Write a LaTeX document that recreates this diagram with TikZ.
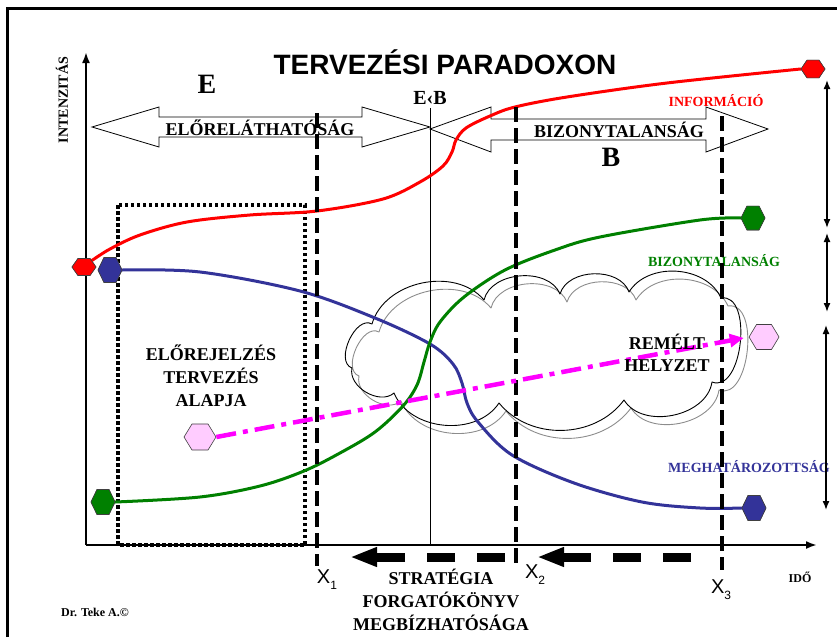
\documentclass[tikz,border=0pt]{standalone}
\usepackage{fontspec}
\setmainfont{Liberation Serif}
\newfontfamily\sansf{Liberation Sans}
\usetikzlibrary{arrows.meta,shapes.geometric}
\definecolor{cred}{RGB}{255,0,0}
\definecolor{cgreen}{RGB}{0,128,0}
\definecolor{cblue}{RGB}{51,51,153}
\definecolor{cpink}{RGB}{255,204,255}
\definecolor{cmag}{RGB}{255,0,255}
\tikzset{
  hexa/.style={regular polygon, regular polygon sides=6, inner sep=0pt, draw=black!75, line width=0.6pt, transform shape},
  curve/.style={line width=3pt, line cap=round},
  vdash/.style={line width=3.5pt, dash pattern=on 15pt off 6pt},
  bigarrow/.style={draw=black, line width=0.8pt, line join=miter},
  lbl/.style={font=\bfseries\fontsize{18}{23}\selectfont, align=center, inner sep=0pt},
  small/.style={font=\bfseries\fontsize{14}{16}\selectfont, inner sep=0pt},
  xlab/.style={font=\sansf\fontsize{20}{22}\selectfont, inner sep=0pt},
  sidearrow/.style={line width=1.5pt, {Latex[length=9pt,width=7pt]}-{Latex[length=9pt,width=7pt]}},
  botarrow/.style={line width=9pt, dash pattern=on 28pt off 22pt, -{Triangle[length=27pt,width=18pt]}},
  axis/.style={line width=2pt, -{Latex[length=11pt,width=8pt]}},
  cloudline/.style={line width=0.9pt, line join=round}
}
\newcommand\hexat[6]{\begin{scope}[shift={(#2,#3)},yscale=#5]\node[hexa,minimum size=#4pt,fill=#6] (#1) at (0,0) {};\end{scope}}
\newcommand\xsub[2]{#1\raisebox{-6pt}{\fontsize{12}{12}\selectfont #2}}
\newcommand\cloudpath{(372,324) to[bend left=62] (484,300) to[bend left=72] (560,294) to[bend left=72] (629,292) to[bend left=62] (721,298) to[bend left=105] (712,382) to[bend left=70] (624,400) to[bend left=52] (499,403) to[bend left=62] (394,393) to[bend left=72] (352,368) to[bend left=95] (372,324) -- cycle}
\begin{document}
\begin{tikzpicture}[x=1pt,y=-1pt]
\useasboundingbox (0,0) rectangle (837,637);
% frame
\draw[line width=3pt] (7,637) -- (7,8) -- (837,8);
% cloud (double outline)
\begin{scope}[shift={(7,8)}]
\draw[cloudline, draw=black!45] \cloudpath;
\end{scope}
\draw[cloudline, draw=black] \cloudpath;
% axes
\coordinate (O) at (86,545);
\coordinate (ytop) at (86,52);
\coordinate (xend) at (817,545);
\draw[axis] (O) -- (ytop);
\draw[axis] (O) -- (xend);
% thin E<B line
\coordinate (ebt) at (430,108);
\coordinate (ebb) at (430,545);
\draw[line width=0.8pt] (ebt) -- (ebb);
% big double arrows
\draw[bigarrow] (92,127) -- (159,107) -- (159,117) -- (362,117) -- (362,107) -- (430,127) -- (362,147) -- (362,137) -- (159,137) -- (159,147) -- cycle;
\draw[bigarrow] (430,129) -- (491,107) -- (491,119) -- (706,119) -- (706,107) -- (768,129) -- (706,152) -- (706,140) -- (491,140) -- (491,152) -- cycle;
% dotted box
\draw[line width=3.5pt, dash pattern=on 3.5pt off 2.5pt] (118,205) rectangle (305,545);
% texts
\node[font=\sansf\bfseries\fontsize{28}{30}\selectfont, inner sep=0pt] (title) at (445,62) {TERVEZÉSI PARADOXON};
\node[font=\bfseries\fontsize{28}{30}\selectfont, inner sep=0pt] (E) at (207,84) {E};
\node[font=\bfseries\fontsize{28}{30}\selectfont, inner sep=0pt] (B) at (611,157) {B};
\node[font=\bfseries\fontsize{20}{22}\selectfont, inner sep=0pt] (EB) at (430,98) {E‹B};
\node[lbl] (elore) at (260,128) {ELŐRELÁTHATÓSÁG};
\node[lbl] (bizon) at (619,130) {BIZONYTALANSÁG};
\node[font=\bfseries\fontsize{14}{16}\selectfont, rotate=90, inner sep=0pt] (int) at (62,100) {INTENZITÁS};
\node[small, text=cred] (info) at (716,101) {INFORMÁCIÓ};
\node[small, text=cgreen] (bizg) at (714,261) {BIZONYTALANSÁG};
\node[small, text=cblue] (megh) at (749,467) {MEGHATÁROZOTTSÁG};
\node[lbl] (elorej) at (211,376) {ELŐREJELZÉS\\TERVEZÉS\\ALAPJA};
\node[lbl] (strat) at (441,600) {STRATÉGIA\\FORGATÓKÖNYV\\MEGBÍZHATÓSÁGA};
\node[font=\bfseries\fontsize{12}{14}\selectfont, inner sep=0pt] (ido) at (800,577) {IDŐ};
\node[font=\bfseries\fontsize{12}{14}\selectfont, inner sep=0pt] (dr) at (95,612) {Dr. Teke A.©};
% hexagons
\hexat{rL}{84}{267}{24}{0.82}{cred}
\hexat{bL}{110}{270}{24}{1.2}{cblue}
\hexat{gL}{103}{502}{24}{1.2}{cgreen}
\hexat{pL}{200}{437}{32}{0.94}{cpink}
\hexat{rR}{813}{69}{24}{0.85}{cred}
\hexat{gR}{753}{218}{24}{1.15}{cgreen}
\hexat{pR}{764}{337}{30}{0.96}{cpink}
\hexat{bR}{754}{508}{24}{1.2}{cblue}
% curves
\draw[curve, cred] plot[smooth, tension=0.55] coordinates {(rL.north east) (110,249) (140,235) (187,222) (250,215) (317,211) (383,199) (420,182) (443,166) (452,152) (456,140) (466,128) (490,116) (515,107) (567,97) (667,83) (rR.west)};
\draw[curve, cblue] plot[smooth, tension=0.55] coordinates {(bL.east) (200,272) (300,291) (375,318) (430,344) (453,364) (462,383) (467,403) (478,422) (512,455) (574,483) (642,502) (700,508) (bR.west)};
\draw[curve, cgreen] plot[smooth, tension=0.55] coordinates {(gL.east) (200,497) (260,486) (304,471) (340,453) (375,432) (403,406) (417,385) (424,362) (430,342) (440,322) (464,297) (505,270) (555,250) (600,237) (700,220) (gR.west)};
% redraw hexagons on top
\hexat{rL2}{84}{267}{24}{0.82}{cred}
\hexat{bL2}{110}{270}{24}{1.2}{cblue}
\hexat{gL2}{103}{502}{24}{1.2}{cgreen}
\hexat{rR2}{813}{69}{24}{0.85}{cred}
\hexat{gR2}{753}{218}{24}{1.15}{cgreen}
\hexat{bR2}{754}{508}{24}{1.2}{cblue}
% dashed verticals
\coordinate (x1t) at (317,113); \coordinate (x1b) at (317,566);
\coordinate (x2t) at (516,107); \coordinate (x2b) at (516,566);
\coordinate (x3t) at (722,116); \coordinate (x3b) at (722,570);
\draw[vdash] (x1t) -- (x1b);
\draw[vdash] (x2t) -- (x2b);
\draw[vdash] (x3t) -- (x3b);
% pink arrow
\draw[cmag, line width=4.5pt, dash pattern=on 20pt off 7pt on 5pt off 7pt, shorten >=5pt, -{Triangle[length=14pt,width=13pt]}] (pL.east) -- (pR.west);
% cloud text
\node[font=\bfseries\fontsize{18}{22}\selectfont, align=center, inner sep=0pt] (remelt) at (667,353) {REMÉLT\\HELYZET};
% bottom arrows
\coordinate (a1s) at (505,557); \coordinate (a1e) at (350,557);
\coordinate (a2s) at (691,557); \coordinate (a2e) at (537,557);
\draw[botarrow] (a1s) -- (a1e);
\draw[botarrow] (a2s) -- (a2e);
% X labels
\node[xlab] (X1) at (327,580) {\xsub{X}{1}};
\node[xlab] (X2) at (535,575) {\xsub{X}{2}};
\node[xlab] (X3) at (721,590) {\xsub{X}{3}};
% side arrows
\coordinate (s1t) at (827,80); \coordinate (s1b) at (827,228);
\coordinate (s2t) at (827,233); \coordinate (s2b) at (827,312);
\coordinate (s3t) at (826,325); \coordinate (s3b) at (826,510);
\draw[sidearrow] (s1t) -- (s1b);
\draw[sidearrow] (s2t) -- (s2b);
\draw[sidearrow] (s3t) -- (s3b);
\end{tikzpicture}
\end{document}
